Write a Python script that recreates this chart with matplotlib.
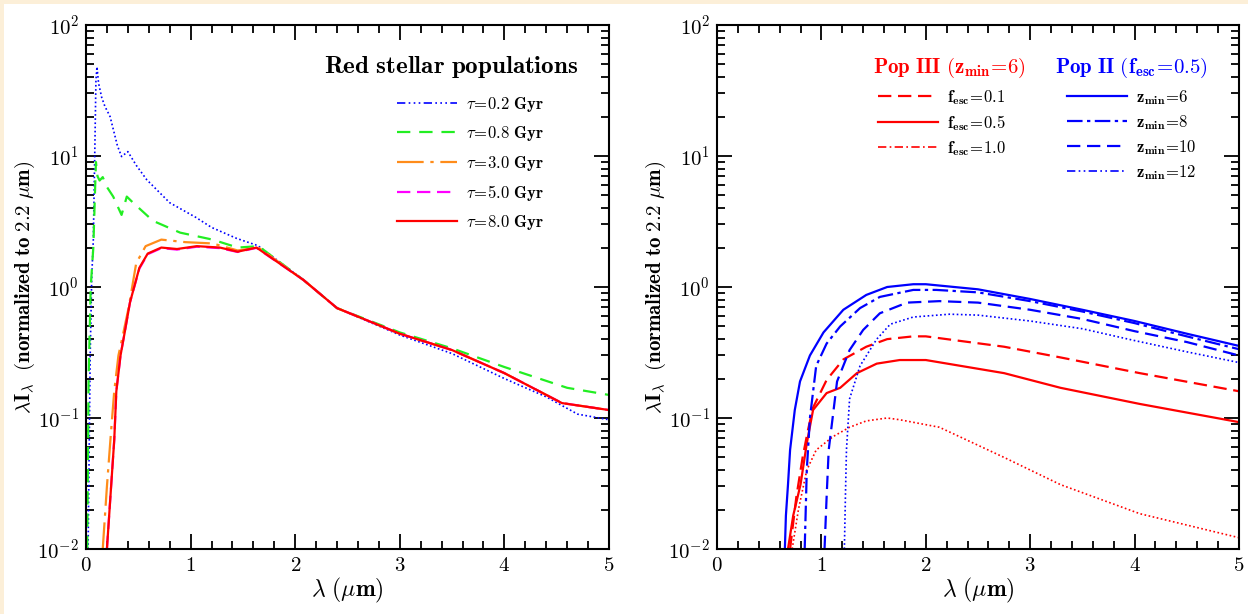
import matplotlib
matplotlib.use("Agg")
import matplotlib.pyplot as plt
from matplotlib.lines import Line2D
from matplotlib.patches import Rectangle
from matplotlib.ticker import LogLocator, NullFormatter, FuncFormatter, MultipleLocator
import math

plt.rcParams['mathtext.fontset'] = 'cm'
plt.rcParams['font.family'] = ['DejaVu Serif']

# ---------------- Left panel data: red stellar populations ----------------
wl_t02 = [0.02, 0.04, 0.055, 0.07, 0.085, 0.095, 0.105, 0.12, 0.15, 0.18, 0.23, 0.3, 0.34, 0.40, 0.48,
          0.58, 0.8, 1.05, 1.2, 1.44, 1.62, 1.65, 2.08, 2.4, 3.0, 3.5, 4.0, 4.4, 4.7, 5.0]
f_t02 = [0.01, 0.3, 1.2, 2.3, 12, 38, 48, 36, 28, 24, 20, 12, 9.9, 10.8, 8.5,
         6.6, 4.4, 3.4, 2.85, 2.35, 2.1, 2.05, 1.13, 0.69, 0.43, 0.31, 0.20, 0.145, 0.107, 0.097]

wl_t08 = [0.012, 0.025, 0.045, 0.07, 0.085, 0.095, 0.11, 0.13, 0.16, 0.2, 0.26, 0.34, 0.39, 0.45,
          0.64, 0.9, 1.21, 1.45, 1.65, 2.08, 2.4, 3.0, 3.5, 4.0, 4.6, 5.0]
f_t08 = [0.01, 0.2, 1.0, 2.0, 5.0, 9.0, 7.0, 6.5, 6.9, 5.8, 4.9, 3.55, 4.9, 4.4,
         3.2, 2.6, 2.3, 2.0, 2.05, 1.13, 0.69, 0.45, 0.34, 0.245, 0.17, 0.15]

wl_t30 = [0.16, 0.2, 0.24, 0.27, 0.31, 0.35, 0.41, 0.48, 0.57, 0.72, 0.95, 1.21, 1.45, 1.65,
          2.08, 2.4, 3.0, 3.5, 4.0, 4.55, 5.0]
f_t30 = [0.01, 0.03, 0.08, 0.16, 0.30, 0.42, 0.71, 1.52, 2.05, 2.3, 2.2, 2.15, 1.9, 2.0,
         1.13, 0.69, 0.44, 0.33, 0.22, 0.13, 0.115]

wl_t50 = [0.2, 0.24, 0.27, 0.29, 0.33, 0.37, 0.42, 0.51, 0.59, 0.72, 0.87, 1.06, 1.28, 1.45, 1.63,
          2.08, 2.4, 3.0, 3.5, 4.0, 4.55, 5.0]
f_t50 = [0.01, 0.03, 0.068, 0.16, 0.30, 0.45, 0.76, 1.38, 1.78, 1.98, 1.93, 2.03, 1.98, 1.85, 1.99,
         1.13, 0.69, 0.44, 0.33, 0.22, 0.13, 0.115]

wl_t80 = [0.2, 0.24, 0.27, 0.29, 0.33, 0.37, 0.42, 0.51, 0.59, 0.72, 0.87, 1.06, 1.28, 1.45, 1.63,
          2.08, 2.4, 3.0, 3.5, 4.0, 4.55, 5.0]
f_t80 = [0.01, 0.03, 0.068, 0.16, 0.30, 0.45, 0.76, 1.4, 1.8, 2.0, 1.95, 2.05, 2.0, 1.86, 2.0,
         1.13, 0.69, 0.44, 0.33, 0.22, 0.13, 0.115]

left_labels = [r'$\mathbf{\tau\!=\!0.2\ Gyr}$', r'$\mathbf{\tau\!=\!0.8\ Gyr}$', r'$\mathbf{\tau\!=\!3.0\ Gyr}$',
               r'$\mathbf{\tau\!=\!5.0\ Gyr}$', r'$\mathbf{\tau\!=\!8.0\ Gyr}$']

# ---------------- Right panel data: Pop III / Pop II ----------------
wl_p3_01 = [0.70, 0.76, 0.82, 0.87, 0.92, 1.05, 1.21, 1.43, 1.63, 1.88, 2.0, 2.75, 3.29, 4.05, 5.0]
f_p3_01 = [0.01, 0.025, 0.05, 0.08, 0.12, 0.195, 0.28, 0.35, 0.40, 0.42, 0.42, 0.35, 0.29, 0.22, 0.16]

wl_p3_05 = [0.68, 0.73, 0.80, 0.86, 0.92, 1.05, 1.18, 1.34, 1.53, 1.75, 2.0, 2.75, 3.29, 4.05, 5.0]
f_p3_05 = [0.01, 0.018, 0.031, 0.064, 0.115, 0.155, 0.17, 0.22, 0.26, 0.277, 0.277, 0.22, 0.17, 0.128, 0.093]

wl_p3_10 = [0.72, 0.78, 0.86, 0.95, 1.11, 1.27, 1.43, 1.63, 1.75, 2.13, 2.75, 3.29, 4.05, 5.0]
f_p3_10 = [0.01, 0.02, 0.04, 0.057, 0.072, 0.085, 0.095, 0.10, 0.097, 0.085, 0.05, 0.031, 0.0186, 0.0122]

wl_p2_z6 = [0.65, 0.66, 0.68, 0.70, 0.745, 0.795, 0.89, 1.02, 1.21, 1.43, 1.63, 1.88, 2.0, 2.5, 3.0, 3.5,
            4.0, 4.5, 5.0]
f_p2_z6 = [0.01, 0.018, 0.031, 0.057, 0.115, 0.19, 0.30, 0.45, 0.67, 0.87, 1.0, 1.05, 1.05, 0.96, 0.81, 0.67,
           0.55, 0.44, 0.355]

wl_p2_z8 = [0.84, 0.86, 0.89, 0.95, 1.05, 1.18, 1.37, 1.56, 1.88, 2.1, 2.5, 3.0, 3.5, 4.0, 4.5, 5.0]
f_p2_z8 = [0.01, 0.04, 0.10, 0.25, 0.37, 0.50, 0.69, 0.84, 0.95, 0.95, 0.91, 0.78, 0.65, 0.53, 0.42, 0.335]

wl_p2_z10 = [1.03, 1.05, 1.07, 1.15, 1.27, 1.40, 1.56, 1.82, 2.13, 2.5, 3.0, 3.5, 4.0, 4.5, 5.0]
f_p2_z10 = [0.01, 0.025, 0.057, 0.19, 0.33, 0.47, 0.63, 0.76, 0.78, 0.76, 0.67, 0.57, 0.46, 0.38, 0.30]

wl_p2_z12 = [1.22, 1.23, 1.24, 1.27, 1.37, 1.53, 1.66, 1.88, 2.23, 2.5, 3.0, 3.5, 4.0, 4.5, 5.0]
f_p2_z12 = [0.01, 0.025, 0.057, 0.14, 0.25, 0.40, 0.52, 0.59, 0.62, 0.61, 0.55, 0.48, 0.39, 0.32, 0.265]

red_labels = [r'$\mathbf{f_{esc}\!=\!0.1}$', r'$\mathbf{f_{esc}\!=\!0.5}$', r'$\mathbf{f_{esc}\!=\!1.0}$']
blue_labels = [r'$\mathbf{z_{min}\!=\!6}$', r'$\mathbf{z_{min}\!=\!8}$', r'$\mathbf{z_{min}\!=\!10}$',
               r'$\mathbf{z_{min}\!=\!12}$']

BLUE = '#0000ff'
GREEN = '#22ee22'
ORANGE = '#ff8c1a'
MAGENTA = '#ff00ff'
RED = '#ff0000'

fig = plt.figure(figsize=(12.48, 6.14), dpi=100)
fig.patch.set_facecolor('#fcefd8')
bg = Rectangle((4 / 1248, 0), 1 - 4 / 1248, 1 - 4 / 614, transform=fig.transFigure,
               facecolor='white', edgecolor='none', zorder=-10)
fig.patches.append(bg)

axL = fig.add_axes([86 / 1248, 65 / 614, 523 / 1248, 524 / 614])
axR = fig.add_axes([717 / 1248, 65 / 614, 522 / 1248, 524 / 614])


def logfmt(v, pos):
    e = int(round(math.log10(v)))
    if e < 0:
        return r'$\mathbf{10^{-%d}}$' % (-e)
    return r'$\mathbf{10^{%d}}$' % e


for ax in (axL, axR):
    ax.set_yscale('log')
    ax.set_xlim(0, 5)
    ax.set_ylim(0.01, 100)
    ax.xaxis.set_major_locator(MultipleLocator(1))
    ax.xaxis.set_minor_locator(MultipleLocator(0.2))
    ax.yaxis.set_major_locator(LogLocator(base=10, numticks=10))
    ax.yaxis.set_minor_locator(LogLocator(base=10, subs=range(2, 10), numticks=20))
    ax.yaxis.set_minor_formatter(NullFormatter())
    ax.yaxis.set_major_formatter(FuncFormatter(logfmt))
    ax.xaxis.set_major_formatter(FuncFormatter(lambda v, p: r'$\mathbf{%d}$' % int(round(v))))
    ax.tick_params(which='both', direction='in', top=True, right=True, colors='black', width=1.3)
    ax.tick_params(which='major', length=11, labelsize=15, pad=5)
    ax.tick_params(which='minor', length=6)
    for s in ax.spines.values():
        s.set_linewidth(1.5)
    ax.set_xlabel(r'$\mathbf{\lambda\ (\mu m)}$', fontsize=17, labelpad=1)
    ax.set_ylabel(r'$\mathbf{\lambda I_{\lambda}\ \ (normalized\ to\ 2.2\ \mu m)}$', fontsize=15, labelpad=0)

# ---------------- left panel ----------------
axL.plot(wl_t02, f_t02, color=BLUE, lw=1.2, ls=(0, (1, 1.5)))
axL.plot(wl_t08, f_t08, color=GREEN, lw=1.6, ls=(0, (6, 4)))
axL.plot(wl_t30, f_t30, color=ORANGE, lw=1.6, ls=(0, (12, 3, 1.5, 3)))
axL.plot(wl_t50, f_t50, color=MAGENTA, lw=1.6, ls=(0, (6, 3)))
axL.plot(wl_t80, f_t80, color=RED, lw=1.6, ls='-')

hL = [Line2D([], [], color=BLUE, lw=1.2, ls=(0, (5, 2, 1, 2, 1, 2, 1, 2))),
      Line2D([], [], color=GREEN, lw=1.6, ls=(0, (6, 4))),
      Line2D([], [], color=ORANGE, lw=1.6, ls=(0, (12, 3, 1.5, 3))),
      Line2D([], [], color=MAGENTA, lw=1.6, ls=(0, (6, 3))),
      Line2D([], [], color=RED, lw=1.6, ls='-')]
axL.legend(hL, left_labels, loc='upper left', bbox_to_anchor=((397 - 86) / 523, (549 - 95) / 524),
           frameon=False, fontsize=12, borderpad=0, borderaxespad=0, handlelength=3.6,
           handletextpad=0.55, labelspacing=0.62)
axL.text((451 - 86) / 523, (549 - 67) / 524, r'$\mathbf{Red\ stellar\ populations}$', transform=axL.transAxes,
         ha='center', va='center', fontsize=18)

# ---------------- right panel ----------------
axR.plot(wl_p3_01, f_p3_01, color=RED, lw=1.6, ls=(0, (6, 3)))
axR.plot(wl_p3_05, f_p3_05, color=RED, lw=1.6, ls='-')
axR.plot(wl_p3_10, f_p3_10, color=RED, lw=1.2, ls=(0, (1, 1.5)))
axR.plot(wl_p2_z6, f_p2_z6, color=BLUE, lw=1.6, ls='-')
axR.plot(wl_p2_z8, f_p2_z8, color=BLUE, lw=1.6, ls=(0, (7, 2, 1.5, 2)))
axR.plot(wl_p2_z10, f_p2_z10, color=BLUE, lw=1.6, ls=(0, (6, 3)))
axR.plot(wl_p2_z12, f_p2_z12, color=BLUE, lw=1.2, ls=(0, (1, 1.5)))

hR = [Line2D([], [], color=RED, lw=1.6, ls=(0, (6, 3))),
      Line2D([], [], color=RED, lw=1.6, ls='-'),
      Line2D([], [], color=RED, lw=1.2, ls=(0, (5, 2, 1, 2)))]
hB = [Line2D([], [], color=BLUE, lw=1.6, ls='-'),
      Line2D([], [], color=BLUE, lw=1.6, ls=(0, (7, 2, 1.5, 2))),
      Line2D([], [], color=BLUE, lw=1.6, ls=(0, (6, 3))),
      Line2D([], [], color=BLUE, lw=1.2, ls=(0, (5, 2, 1, 2, 1, 2)))]
legR = axR.legend(hR, red_labels, loc='upper left', bbox_to_anchor=((878 - 717) / 522, (549 - 88) / 524),
                  frameon=False, fontsize=12, borderpad=0, borderaxespad=0, handlelength=3.6,
                  handletextpad=0.55, labelspacing=0.37)
axR.add_artist(legR)
axR.legend(hB, blue_labels, loc='upper left', bbox_to_anchor=((1067 - 717) / 522, (549 - 88) / 524),
           frameon=False, fontsize=12, borderpad=0, borderaxespad=0, handlelength=3.6,
           handletextpad=0.55, labelspacing=0.37)
axR.text((949 - 717) / 522, (549 - 68) / 524, r'$\mathbf{Pop\ III\ (z_{min}\!=\!6)}$', transform=axR.transAxes,
         ha='center', va='center', fontsize=15, color=RED)
axR.text((1131 - 717) / 522, (549 - 68) / 524, r'$\mathbf{Pop\ II\ (f_{esc}\!=\!0.5)}$', transform=axR.transAxes,
         ha='center', va='center', fontsize=15, color=BLUE)

fig.savefig('out.png', dpi=100, facecolor=fig.get_facecolor())
